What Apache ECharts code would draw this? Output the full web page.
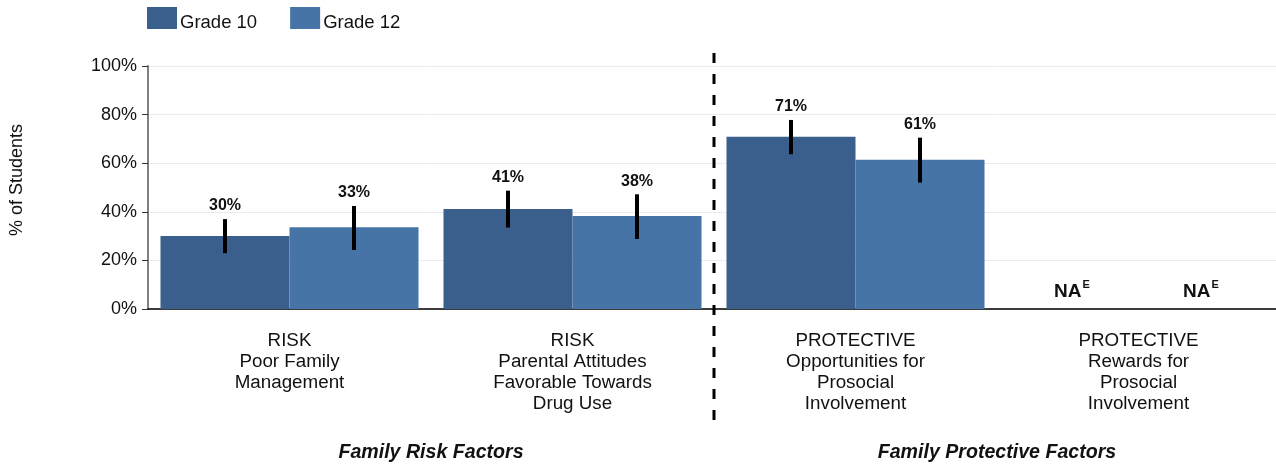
<!DOCTYPE html>
<html>
<head>
<meta charset="utf-8">
<script src="https://cdn.jsdelivr.net/npm/echarts@6/dist/echarts.min.js"></script>
<style>
html,body{margin:0;padding:0;background:#fff;}
#c{width:1276px;height:468px;}
</style>
</head>
<body>
<div id="c"></div>
<script>
var categories = [
  'RISK\nPoor Family\nManagement',
  'RISK\nParental Attitudes\nFavorable Towards\nDrug Use',
  'PROTECTIVE\nOpportunities for\nProsocial\nInvolvement',
  'PROTECTIVE\nRewards for\nProsocial\nInvolvement'
];
var seriesNames = ['Grade 10', 'Grade 12'];
var grade10 = [30, 41.2, 70.9, null];
var grade12 = [33.6, 38.3, 61.4, null];
var grade10Low = [23, 33.5, 63.7, null];
var grade10High = [37, 48.7, 77.8, null];
var grade12Low = [24.3, 28.8, 52, null];
var grade12High = [42.4, 47.2, 70.5, null];
var grade10Labels = ['30%', '41%', '71%', 'NA'];
var grade12Labels = ['33%', '38%', '61%', 'NA'];
var yTicks = [0, 20, 40, 60, 80, 100];
var groupTitles = ['Family Risk Factors', 'Family Protective Factors'];
var yTitle = '% of Students';

var COLORS = ['#3A5F8C', '#4674A7'];
var BAR_W = 129;
var FONT = 'Liberation Sans, Arial, Helvetica, sans-serif';

function errSeries(idx, low, high, labels) {
  var sign = idx === 0 ? -1 : 1;
  var data = categories.map(function (c, i) {
    return [i, low[i] == null ? 0 : low[i], high[i] == null ? 0 : high[i], high[i] == null ? 1 : 0];
  });
  return {
    type: 'custom',
    name: seriesNames[idx] + ' err',
    z: 5,
    silent: true,
    data: data,
    encode: {x: 0, y: [1, 2]},
    renderItem: function (params, api) {
      var i = api.value(0);
      var isNA = api.value(3) === 1;
      var c = api.coord([i, 0]);
      var x = c[0] + sign * BAR_W / 2;
      if (isNA) {
        return {
          type: 'text',
          style: {
            x: x - 2, y: c[1] - 17,
            text: '{a|NA}{s|E}',
            align: 'center', verticalAlign: 'middle',
            rich: {
              a: {fontSize: 19, fontWeight: 'bold', fontFamily: FONT, fill: '#111'},
              s: {fontSize: 11, fontWeight: 'bold', fontFamily: FONT, fill: '#111', verticalAlign: 'top', padding: [0, 0, 14, 1]}
            }
          }
        };
      }
      var pLow = api.coord([i, api.value(1)]);
      var pHigh = api.coord([i, api.value(2)]);
      return {
        type: 'group',
        children: [
          {type: 'line', shape: {x1: x, y1: pLow[1], x2: x, y2: pHigh[1]}, style: {stroke: '#000', lineWidth: 4}},
          {type: 'text', style: {x: x, y: pHigh[1] - 13, text: labels[i], align: 'center', verticalAlign: 'middle',
            fontSize: 16, fontWeight: 'bold', fontFamily: FONT, fill: '#111'}}
        ]
      };
    }
  };
}

var chart = echarts.init(document.getElementById('c'), null, {renderer: 'canvas'});
var option = {
  animation: false,
  backgroundColor: '#fff',
  color: COLORS,
  legend: {
    data: seriesNames,
    left: 147, top: 7, padding: 0,
    itemWidth: 30, itemHeight: 22, itemGap: 33,
    icon: 'rect',
    formatter: '{t|{name}}',
    textStyle: {
      fontSize: 18.5, fontFamily: FONT, color: '#111',
      rich: {t: {fontSize: 18.5, fontFamily: FONT, color: '#111', padding: [9, 0, 0, -2]}}
    }
  },
  grid: {left: 148, top: 66, width: 1132, height: 243, containLabel: false, outerBoundsMode: 'none'},
  xAxis: {
    type: 'category',
    data: categories,
    axisLine: {show: true, lineStyle: {color: '#000', width: 1.5}},
    axisTick: {show: false},
    axisLabel: {interval: 0, fontSize: 18.8, lineHeight: 21, fontFamily: FONT, color: '#111', margin: 21}
  },
  yAxis: {
    type: 'value',
    min: 0, max: 100, interval: 20,
    axisLine: {show: true, lineStyle: {color: '#808080', width: 2}},
    axisTick: {show: true, length: 6, lineStyle: {color: '#333', width: 1}},
    axisLabel: {fontSize: 18, fontFamily: FONT, color: '#111', margin: 11, formatter: '{value}%'},
    splitLine: {show: true, lineStyle: {color: '#ebebeb', width: 1}}
  },
  series: [
    {name: seriesNames[0], type: 'bar', data: grade10, barWidth: BAR_W, barGap: '0%', itemStyle: {color: COLORS[0]}},
    {name: seriesNames[1], type: 'bar', data: grade12, barWidth: BAR_W, barGap: '0%', itemStyle: {color: COLORS[1]}},
    errSeries(0, grade10Low, grade10High, grade10Labels),
    errSeries(1, grade12Low, grade12High, grade12Labels)
  ]
};
chart.setOption(option);

var p0 = chart.convertToPixel({xAxisIndex: 0}, 0);
var p1 = chart.convertToPixel({xAxisIndex: 0}, 1);
var p2 = chart.convertToPixel({xAxisIndex: 0}, 2);
var p3 = chart.convertToPixel({xAxisIndex: 0}, 3);
var divX = (p1 + p2) / 2;
chart.setOption({
  graphic: [
    {type: 'line', z: 10, shape: {x1: divX, y1: 53, x2: divX, y2: 430},
      style: {stroke: '#000', lineWidth: 3, lineDash: [10, 11]}},
    {type: 'text', z: 10, style: {x: (p0 + p1) / 2, y: 453, text: groupTitles[0], align: 'center', verticalAlign: 'middle',
      fontSize: 19.6, fontWeight: 'bold', fontStyle: 'italic', fontFamily: FONT, fill: '#111'}},
    {type: 'text', z: 10, style: {x: (p2 + p3) / 2, y: 453, text: groupTitles[1], align: 'center', verticalAlign: 'middle',
      fontSize: 19.6, fontWeight: 'bold', fontStyle: 'italic', fontFamily: FONT, fill: '#111'}},
    {type: 'text', z: 10, x: 17, y: 180, rotation: Math.PI / 2, style: {x: 0, y: 0, text: yTitle, align: 'center', verticalAlign: 'middle',
      fontSize: 18, fontFamily: FONT, fill: '#111'}}
  ]
});
</script>
</body>
</html>
